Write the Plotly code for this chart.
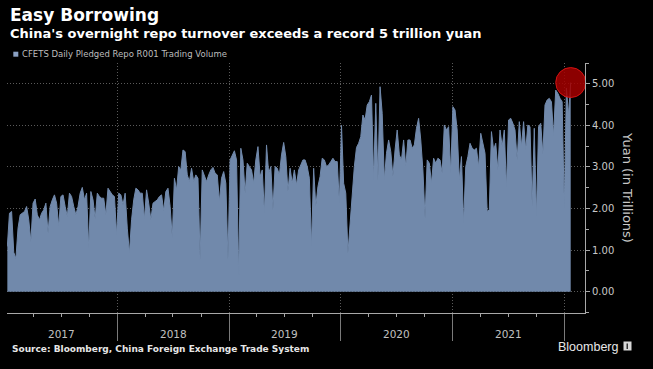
import plotly.graph_objects as go
import pandas as pd

title = "Easy Borrowing"
subtitle = "China's overnight repo turnover exceeds a record 5 trillion yuan"
series_name = "CFETS Daily Pledged Repo R001 Trading Volume"
source = "Source: Bloomberg, China Foreign Exchange Trade System"
y_title = "Yuan (in Trillions)"
year_labels = ["2017", "2018", "2019", "2020", "2021"]
y_ticks = [0, 1, 2, 3, 4, 5]

# weekly readings of the daily series, trillion yuan
volume = [
    1.09, 1.89, 1.93, 0.95, 0.80, 1.53, 1.85, 1.89, 1.93, 2.05,
    1.73, 1.20, 2.13, 2.23, 1.85, 1.73, 1.89, 1.97, 2.13, 1.41,
    2.05, 2.21, 2.33, 2.13, 1.57, 2.29, 2.33, 2.05, 1.81, 2.37,
    2.29, 2.05, 1.85, 2.05, 2.37, 2.51, 2.21, 2.37, 1.05, 2.41,
    2.21, 1.75, 2.37, 2.29, 2.25, 2.25, 1.85, 2.49, 2.41, 2.33,
    2.29, 1.37, 2.37, 2.33, 2.09, 2.37, 1.53, 0.93, 1.73, 2.21,
    2.49, 2.45, 2.37, 2.37, 1.75, 2.45, 2.13, 1.73, 2.13, 2.17,
    2.21, 2.29, 2.33, 1.95, 2.41, 2.49, 2.05, 1.29, 2.73, 2.45,
    3.01, 2.93, 3.41, 3.37, 2.81, 2.65, 2.97, 2.65, 2.81, 2.73,
    0.77, 2.93, 2.81, 2.65, 2.81, 2.93, 2.99, 2.85, 2.81, 2.17,
    2.73, 2.89, 2.61, 0.77, 3.17, 3.29, 3.39, 3.17, 0.41, 3.45,
    3.17, 2.37, 3.09, 3.01, 2.93, 2.61, 3.17, 3.49, 2.77, 2.93,
    1.89, 3.53, 2.85, 3.01, 1.97, 3.01, 2.97, 2.81, 3.29, 3.59,
    3.25, 2.41, 2.97, 2.61, 2.93, 2.57, 2.93, 3.05, 3.17, 3.17,
    3.01, 2.73, 1.09, 2.97, 2.05, 2.53, 2.77, 3.21, 3.17, 3.01,
    3.05, 3.13, 3.21, 3.13, 3.13, 2.13, 4.00, 2.61, 2.37, 0.93,
    1.65, 2.29, 3.01, 3.47, 3.57, 3.73, 4.25, 4.13, 4.49, 4.57,
    4.73, 2.69, 4.53, 2.69, 4.93, 4.29, 2.69, 3.33, 3.65, 3.37,
    2.77, 3.41, 3.89, 3.29, 3.17, 3.65, 3.01, 3.65, 3.65, 3.45,
    3.53, 3.93, 4.17, 3.65, 2.93, 1.77, 3.17, 3.09, 2.61, 3.21,
    3.09, 3.21, 3.17, 2.85, 4.01, 3.89, 3.97, 2.85, 4.45, 4.37,
    3.89, 2.69, 3.25, 1.65, 3.01, 3.25, 3.57, 3.45, 3.41, 3.45,
    3.00, 3.81, 3.57, 3.33, 1.93, 1.97, 3.85, 3.41, 3.57, 2.93,
    3.89, 3.49, 3.89, 2.50, 4.13, 4.17, 4.05, 3.89, 3.17, 4.09,
    3.49, 4.09, 3.41, 4.01, 3.97, 2.05, 3.93, 1.81, 3.97, 4.05,
    3.30, 4.49, 4.61, 4.65, 4.57, 3.75, 4.85, 4.77, 4.65, 4.57,
    2.00, 4.90, 4.25, 5.03,
]
dates = pd.date_range("2017-01-06", periods=len(volume), freq="7D")

W, H = 653, 369
ML, MR, MT, MB = 7, 68, 63, 56
PW, PH = W - ML - MR, H - MT - MB


def px(x):
    return (x - ML) / PW


def py(y):
    return (H - MB - y) / PH


FILL = "#7189AB"
GRID = "#5a5a5a"
AXIS = "#a8a8a8"
TXT = "#c8c8c8"
DOT = "1px,2px"

fig = go.Figure()
fig.add_trace(go.Scatter(
    x=dates, y=volume, mode="lines", fill="tozeroy",
    fillcolor=FILL, line=dict(color=FILL, width=1),
    name=series_name, showlegend=False, hoverinfo="skip",
))
fig.add_trace(go.Scatter(
    x=[dates[-1]], y=[volume[-1]], mode="markers", cliponaxis=False,
    marker=dict(size=30, color="rgba(165,0,0,0.85)",
                line=dict(color="rgba(220,20,20,0.9)", width=1)),
    showlegend=False, hoverinfo="skip",
))

annotations = [
    dict(text=f"<b>{title}</b>", x=px(8), y=py(15.3), xref="paper", yref="paper",
         xanchor="left", yanchor="middle", showarrow=False,
         font=dict(family="DejaVu Sans", size=17, color="#ffffff")),
    dict(text=f"<b>{subtitle}</b>", x=px(8), y=py(33.3), xref="paper", yref="paper",
         xanchor="left", yanchor="middle", showarrow=False,
         font=dict(family="DejaVu Sans", size=13, color="#ffffff")),
    dict(text=series_name, x=px(20), y=py(54.5), xref="paper", yref="paper",
         xanchor="left", yanchor="middle", showarrow=False,
         font=dict(family="DejaVu Sans", size=8.5, color="#bdbdbd")),
    dict(text=f"<b>{source}</b>", x=px(10), y=py(348.8), xref="paper", yref="paper",
         xanchor="left", yanchor="middle", showarrow=False,
         font=dict(family="DejaVu Sans", size=9, color="#e6e6e6")),
    dict(text="Bloomberg", x=px(555.5), y=py(346.8), xref="paper", yref="paper",
         xanchor="left", yanchor="middle", showarrow=False,
         font=dict(family="Liberation Sans", size=12.5, color="#e8e8e8")),
    dict(text=y_title, x=px(627.3), y=py(187.3), xref="paper", yref="paper",
         xanchor="center", yanchor="middle", showarrow=False, textangle=90,
         font=dict(family="DejaVu Sans", size=13, color=TXT)),
]
for yr in year_labels:
    annotations.append(dict(
        text=yr, x=f"{yr}-07-02", y=py(333.5), xref="x", yref="paper",
        xanchor="center", yanchor="middle", showarrow=False,
        font=dict(family="DejaVu Sans", size=10.5, color="#c0c0c0")))

shapes = [
    dict(type="rect", xref="paper", yref="paper",
         x0=px(13.3), x1=px(18.3), y0=py(56.7), y1=py(51.7),
         fillcolor="#8aa0c2", line=dict(width=0)),
    dict(type="rect", xref="paper", yref="paper",
         x0=px(623.5), x1=px(631.5), y0=py(350.5), y1=py(341.5),
         fillcolor="#d8d8d8", line=dict(width=0)),
    dict(type="rect", xref="paper", yref="paper",
         x0=px(626.5), x1=px(628), y0=py(349), y1=py(343.5),
         fillcolor="#333333", line=dict(width=0)),
]

fig.update_layout(
    width=W, height=H,
    margin=dict(l=ML, r=MR, t=MT, b=MB, pad=0),
    paper_bgcolor="#000000", plot_bgcolor="#000000",
    showlegend=False,
    annotations=annotations, shapes=shapes,
    xaxis=dict(
        type="date", range=["2017-01-04 22:00", "2022-03-08 17:00"],
        tickmode="linear", tick0="2017-01-01", dtick="M12",
        ticks="outside", ticklen=27, tickcolor="#7a7a7a", tickwidth=1,
        showticklabels=False,
        showgrid=True, gridcolor=GRID, griddash=DOT, gridwidth=1,
        showline=True, linecolor=AXIS, linewidth=1, zeroline=False,
        minor=dict(dtick="M3", tick0="2017-01-01", ticks="outside", ticklen=3,
                   tickcolor=AXIS, showgrid=False),
        fixedrange=True,
    ),
    yaxis=dict(
        side="right", range=[-0.51, 5.5],
        tickmode="array", tickvals=y_ticks, tickformat=".2f",
        ticks="outside", ticklen=4, tickcolor=AXIS,
        tickfont=dict(family="DejaVu Sans", size=10, color=TXT),
        showline=True, linecolor=AXIS, linewidth=1,
        showgrid=True, gridcolor=GRID, griddash=DOT, gridwidth=1,
        zeroline=False,
        minor=dict(dtick=0.5, tick0=0, ticks="outside", ticklen=3,
                   tickcolor=AXIS, showgrid=False),
        fixedrange=True,
    ),
)

fig.write_html(
    "out.html",
    config={"displayModeBar": False},
    post_script="document.body.style.margin='0';document.body.style.background='#000';",
)
